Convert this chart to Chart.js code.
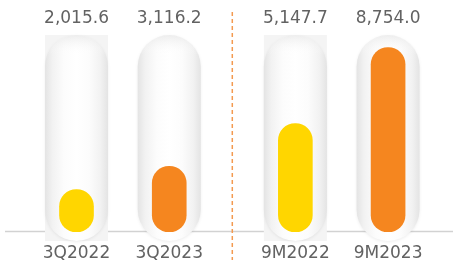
<!DOCTYPE html>
<html><head><meta charset="utf-8">
<script src="https://cdn.jsdelivr.net/npm/chart.js@4/dist/chart.umd.min.js"></script>
<style>html,body{margin:0;padding:0;background:#fff}#wrap{width:453px;height:268px}</style>
</head><body><div id="wrap"><canvas id="c"></canvas></div>
<script>
const categories = ['3Q2022', '3Q2023', '9M2022', '9M2023'];
const values = [2015.6, 3116.2, 5147.7, 8754.0];
const valueLabels = ['2,015.6', '3,116.2', '5,147.7', '8,754.0'];
const barColors = ['#FFD600', '#F5861F', '#FFD600', '#F5861F'];

// category slot positions: a wider gap separates the quarter pair from the nine-month pair
const slot = i => i + (i >= 2 ? 0.36 : 0);

const FONT = '17px "DejaVu Sans"';
const TEXT = '#626262';

function pill(ctx, l, t, w, h) {
  const r = w / 2;
  ctx.beginPath();
  ctx.moveTo(l, t + r);
  ctx.arc(l + r, t + r, r, Math.PI, 0);
  ctx.lineTo(l + w, t + h - r);
  ctx.arc(l + r, t + h - r, r, 0, Math.PI);
  ctx.closePath();
}

const decor = {
  id: 'decor',
  beforeDatasetsDraw(chart) {
    const { ctx, chartArea, scales: { y } } = chart;
    const meta = chart.getDatasetMeta(0);
    const base = y.getPixelForValue(0);
    ctx.save();
    // baseline
    ctx.strokeStyle = '#d2d2d2';
    ctx.lineWidth = 1.5;
    ctx.beginPath();
    ctx.moveTo(5, base - 0.5);
    ctx.lineTo(chart.width, base - 0.5);
    ctx.stroke();
    // divider
    const mid = (meta.data[1].x + meta.data[2].x) / 2;
    ctx.strokeStyle = '#F39A50';
    ctx.lineWidth = 1.5;
    ctx.setLineDash([4, 3]);
    ctx.beginPath();
    ctx.moveTo(mid, 12);
    ctx.lineTo(mid, 260);
    ctx.stroke();
    ctx.setLineDash([]);
    // tubes
    meta.data.forEach((el, i) => {
      const w = 63, l = el.x - w / 2, t = chartArea.top, b = base + 9;
      if (i % 2 === 0) {
        ctx.fillStyle = '#f4f4f4';
        ctx.fillRect(l, t, w, b - t);
      }
      ctx.save();
      ctx.shadowColor = 'rgba(0,0,0,0.07)';
      ctx.shadowBlur = 3;
      ctx.shadowOffsetY = 1;
      const g = ctx.createLinearGradient(l, 0, l + w, 0);
      g.addColorStop(0, '#e4e4e4');
      g.addColorStop(0.12, '#f2f2f2');
      g.addColorStop(0.3, '#fcfcfc');
      g.addColorStop(0.5, '#ffffff');
      g.addColorStop(0.7, '#fcfcfc');
      g.addColorStop(0.88, '#f2f2f2');
      g.addColorStop(1, '#e4e4e4');
      ctx.fillStyle = g;
      pill(ctx, l, t, w, b - t);
      ctx.fill();
      ctx.restore();
      // soft top shading
      const gt = ctx.createLinearGradient(0, t, 0, t + 20);
      gt.addColorStop(0, 'rgba(220,220,220,0.5)');
      gt.addColorStop(1, 'rgba(255,255,255,0)');
      ctx.fillStyle = gt;
      pill(ctx, l, t, w, b - t);
      ctx.fill();
    });
    ctx.restore();
  },
  afterDatasetsDraw(chart) {
    const { ctx } = chart;
    const meta = chart.getDatasetMeta(0);
    ctx.save();
    ctx.font = FONT;
    ctx.fillStyle = TEXT;
    ctx.textAlign = 'center';
    ctx.textBaseline = 'middle';
    meta.data.forEach((el, i) => {
      ctx.fillText(valueLabels[i], el.x, 19);
      ctx.fillText(categories[i], el.x, 254);
    });
    ctx.restore();
  }
};

new Chart(document.getElementById('c'), {
  type: 'bar',
  data: {
    datasets: [{
      data: values.map((v, i) => ({ x: slot(i), y: v })),
      backgroundColor: barColors,
      borderRadius: 17,
      borderSkipped: false,
      barThickness: 34
    }]
  },
  options: {
    responsive: true,
    maintainAspectRatio: false,
    animation: false,
    layout: { padding: { top: 35, bottom: 36, left: 0, right: 0 } },
    plugins: { legend: { display: false }, tooltip: { enabled: false } },
    scales: {
      x: { type: 'linear', offset: false, min: -0.825, max: 4.06, display: false },
      y: { min: 0, max: 9350, display: false }
    }
  },
  plugins: [decor]
});
</script>
</body></html>
